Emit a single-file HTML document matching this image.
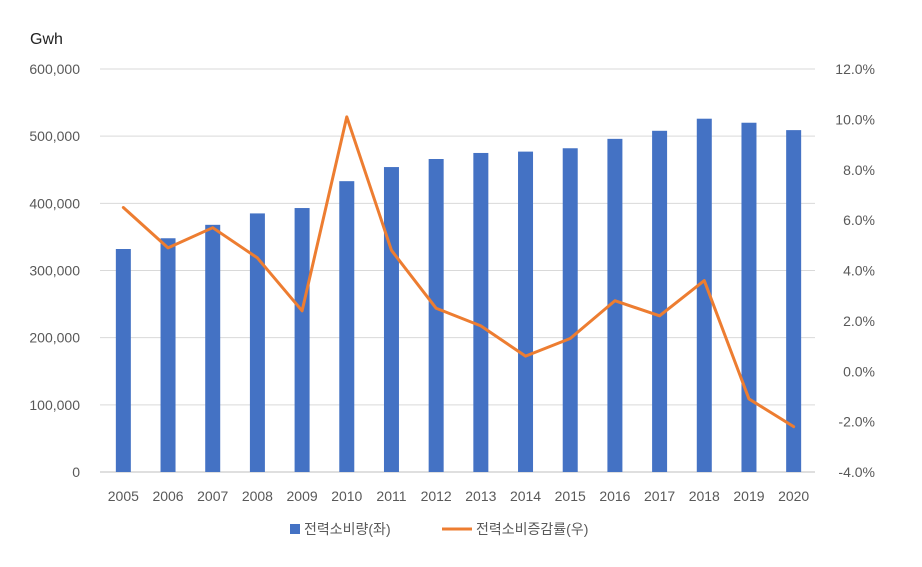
<!DOCTYPE html>
<html><head><meta charset="utf-8">
<style>
body{margin:0;background:#fff;}
svg text{font-family:"Liberation Sans","Noto Sans CJK KR",sans-serif;fill:#595959;}
</style></head>
<body>
<svg width="922" height="562" viewBox="0 0 922 562" xmlns="http://www.w3.org/2000/svg">
<rect width="922" height="562" fill="#fff"/>
<text x="30" y="44" font-size="16" style="fill:#222">Gwh</text>
<g id="grid"></g><g id="bars"></g><g id="line"></g><g id="axes"></g>
<g>
<rect x="290" y="524" width="10" height="10" fill="#4472C4"/>
<text x="304" y="534" font-size="14">전력소비량(좌)</text>
<line x1="442" y1="529" x2="472" y2="529" stroke="#ED7D31" stroke-width="3"/>
<text x="476" y="534" font-size="14">전력소비증감률(우)</text>
</g>
</svg>
<script>
const years=["2005","2006","2007","2008","2009","2010","2011","2012","2013","2014","2015","2016","2017","2018","2019","2020"];
const consumption=[332000,348000,368000,385000,393000,433000,454000,466000,475000,477000,482000,496000,508000,526000,520000,509000];
const growth=[6.5,4.9,5.7,4.5,2.4,10.1,4.8,2.5,1.8,0.6,1.3,2.8,2.2,3.6,-1.1,-2.2];
const leftTicks=[0,100000,200000,300000,400000,500000,600000];
const rightTicks=[-4,-2,0,2,4,6,8,10,12];
const NS="http://www.w3.org/2000/svg";
const X0=100,X1=815,Y0=472,Y1=69;
const step=(X1-X0)/years.length;
const xC=i=>X0+step*(i+0.5)+1;
const yL=v=>Y0-(v/600000)*(Y0-Y1);
const yR=v=>Y0-((v+4)/16)*(Y0-Y1);
function mk(t,a,p){const e=document.createElementNS(NS,t);for(const k in a)e.setAttribute(k,a[k]);p.appendChild(e);return e;}
const grid=document.getElementById('grid'),bars=document.getElementById('bars'),line=document.getElementById('line'),axes=document.getElementById('axes');
leftTicks.forEach(v=>{
 const l=mk('line',{x1:X0,x2:X1,y1:yL(v),y2:yL(v),stroke:v===0?'#bfbfbf':'#d9d9d9','stroke-width':1},grid);
 
 
 const t=mk('text',{x:80,y:yL(v)+5,'font-size':14,'text-anchor':'end'},axes);
 t.textContent=v.toLocaleString('en-US');
 
 
});
rightTicks.forEach(v=>{
 const t=mk('text',{x:875,y:yR(v)+5,'font-size':14,'text-anchor':'end'},axes);
 t.textContent=v.toFixed(1)+'%';
 
 
});
years.forEach((y,i)=>{
 const b=mk('rect',{x:xC(i)-7.5,y:yL(consumption[i]),width:15,height:Y0-yL(consumption[i]),fill:'#4472C4'},bars);
 
 
 const t=mk('text',{x:xC(i),y:501,'font-size':14,'text-anchor':'middle'},axes);
 t.textContent=y;
 
 
});
const pl=mk('polyline',{points:growth.map((v,i)=>xC(i)+','+yR(v)).join(' '),fill:'none',stroke:'#ED7D31','stroke-width':3,'stroke-linejoin':'round','stroke-linecap':'round'},line);


</script>
</body></html>
